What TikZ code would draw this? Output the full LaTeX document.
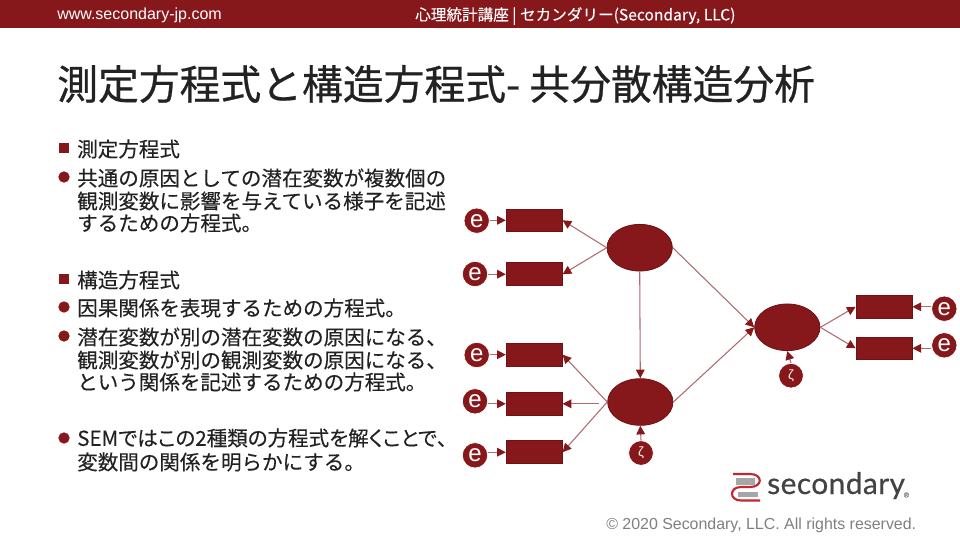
\documentclass[tikz,border=0pt]{standalone}
\usepackage{xcolor}
\usepackage{fontspec}
\setmainfont{Liberation Sans}
\newfontfamily\jpfont[FakeBold=0.25]{Noto Sans CJK JP}
\newfontfamily\titlefont[FakeBold=0.6]{Noto Sans CJK JP}
\newfontfamily\logofont[LetterSpace=1.5, FakeBold=0.5]{Lato}
\usetikzlibrary{shapes.geometric, arrows.meta}
\definecolor{semred}{HTML}{86171A}
\definecolor{semdark}{HTML}{6E1215}
\definecolor{semline}{HTML}{B06A70}
\definecolor{semink}{HTML}{222222}
\definecolor{semgray}{HTML}{7F7F7F}
\definecolor{logored}{HTML}{C4262E}

\begin{document}
\begin{tikzpicture}[
    x=0.75pt, y=-0.75pt,
    obsbox/.style={rectangle, draw=semdark, line width=0.6pt, fill=semred, minimum width=42pt, minimum height=17pt, inner sep=0pt},
    latent/.style={ellipse, draw=semdark, line width=0.6pt, fill=semred, minimum width=49pt, minimum height=35pt, inner sep=0pt},
    errnode/.style={circle, draw=white, line width=0.5pt, fill=semred, minimum size=19pt, inner sep=0pt, text=white, font=\fontsize{18}{18}\selectfont},
    zetanode/.style={circle, draw=white, line width=0.5pt, fill=semred, minimum size=18.5pt, inner sep=0pt, text=white, font=\fontsize{10}{10}\selectfont},
    arrowline/.style={draw=semline, line width=0.8pt, -{Triangle[length=6.5pt, width=6.5pt, color=semred]}},
    bodytext/.style={anchor=west, inner sep=0pt, text=semink, font=\jpfont\fontsize{15.4}{15.4}\selectfont},
    sqbullet/.style={rectangle, fill=semred, minimum size=8pt, inner sep=0pt},
    dotbullet/.style={circle, fill=semred, minimum size=8.5pt, inner sep=0pt},
]
\useasboundingbox (0,0) rectangle (960,540);

% Header
\fill[semred] (0,0) rectangle (960,28);
\node[anchor=west, inner sep=0pt, text=white, font=\fontsize{12}{12}\selectfont] (site) at (57,15) {www.secondary-jp.com};
\node[anchor=west, inner sep=0pt, text=white, font=\jpfont\fontsize{11.7}{11.7}\selectfont] (course) at (415,16) {心理統計講座 | セカンダリー(Secondary, LLC)};

% Title
\node[anchor=west, inner sep=0pt, text=semink, font=\titlefont\fontsize{30.6}{30.6}\selectfont] (title) at (57,84) {測定方程式と構造方程式- 共分散構造分析};

% Text lines
\foreach \n/\y/\t in {a/149/測定方程式, b/178/共通の原因としての潜在変数が複数個の, c/201/観測変数に影響を与えている様子を記述, d/223/するための方程式。, e/280/構造方程式, f/308/因果関係を表現するための方程式。, g/337/潜在変数が別の潜在変数の原因になる、, h/360/観測変数が別の観測変数の原因になる、, i/382/という関係を記述するための方程式。, j/438/\addfontfeatures{RawFeature=+palt}SEMではこの2種類の方程式を解くことで\makebox[0.45em][l]{、}, k/462/変数間の関係を明らかにする。} {
    \node[bodytext] (line\n) at (77,\y) {\t};
}
\foreach \n/\y in {a/148, e/279} {
    \node[sqbullet] (mark\n) at (64,\y) {};
}
\foreach \n/\y in {b/177, f/307, g/336, j/438} {
    \node[dotbullet] (mark\n) at (64,\y) {};
}

% Left observed variables
\foreach \n/\y/\ex/\ey in {1/220.3/476.7/220.7, 2/274.2/475/274, 3/354.7/476.7/355, 4/403.8/475/401.3, 5/452.2/475/455.3} {
    \node[obsbox] (obs\n) at (534.2,\y) {};
    \node[errnode] (err\n) at (\ex,\ey) {e};
    \draw[arrowline] (err\n.east |- obs\n.west) -- (obs\n.west);
}

% Right observed variables
\foreach \n/\y/\ey in {6/306.8/308.7, 7/348.3/345.3} {
    \node[obsbox] (obs\n) at (884,\y) {};
    \node[errnode] (err\n) at (944.3,\ey) {e};
    \draw[arrowline] (err\n.west |- obs\n.east) -- (obs\n.east);
}

% Latent variables
\node[latent] (lat1) at (639.7,247.7) {};
\node[latent] (lat2) at (640.3,402) {};
\node[latent] (lat3) at (787.3,327.3) {};
\node[zetanode] (zeta2) at (641,453) {ζ};
\node[zetanode] (zeta3) at (791,375.7) {ζ};

% Paths
\coordinate (gap) at (599,403.8);
\draw[arrowline] (lat1.west) -- (obs1.east);
\draw[arrowline] (lat1.west) -- (obs2.east);
\draw[arrowline] (lat2.west) -- (obs3.east);
\draw[arrowline] (gap) -- (obs4.east);
\draw[arrowline] (lat2.west) -- (obs5.east);
\draw[arrowline] (lat1.south) -- (lat2.north);
\draw[arrowline] (lat1.east) -- (lat3.west);
\draw[arrowline] (lat2.east) -- (lat3.west);
\draw[arrowline] (lat3.east) -- (obs6.west);
\draw[arrowline] (lat3.east) -- (obs7.west);
\draw[arrowline] (zeta2.north) -- (lat2.south);
\draw[arrowline] (zeta3.north) -- (lat3.south);

% Logo
\fill[gray!70] (736,478) rectangle (755,484.5);
\fill[gray!70] (738,491.5) rectangle (758,497);
\draw[logored, line width=1.6pt] (733,474) -- (750,474) .. controls (763,474) and (763,487) .. (750,487) -- (741,487) .. controls (729,487) and (729,500.5) .. (741,500.5) -- (760,500.5);
\node[anchor=base west, inner sep=0pt, text=semink!85, font=\logofont\fontsize{22.4}{22.4}\selectfont] (brand) at (767,494) {secondary\hspace{-1pt}\raisebox{-2.5pt}{\textcolor{gray}{\fontsize{5}{5}\selectfont ®}}};

% Footer
\node[anchor=west, inner sep=0pt, text=semgray, font=\fontsize{11.95}{11.95}\selectfont] (copyright) at (606,525) {© 2020 Secondary, LLC. All rights reserved.};
\end{tikzpicture}
\end{document}
